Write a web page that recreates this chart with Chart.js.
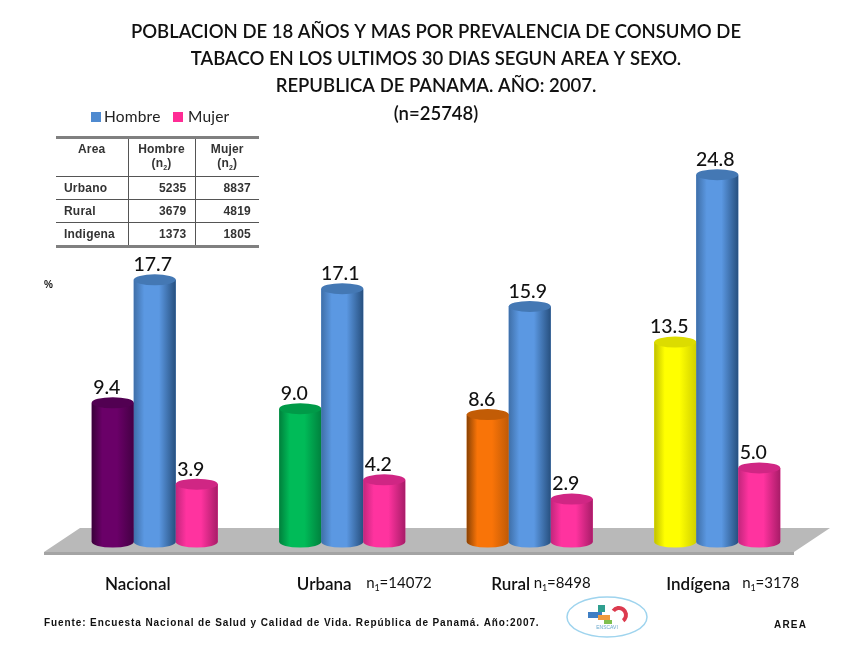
<!DOCTYPE html>
<html lang="es">
<head>
<meta charset="utf-8">
<title>Prevalencia de consumo de tabaco</title>
<script src="https://cdn.jsdelivr.net/npm/chart.js@4/dist/chart.umd.min.js"></script>
<style>
  html, body { margin: 0; padding: 0; background: #fff; }
  #wrap { position: relative; width: 853px; height: 650px; overflow: hidden; }
  canvas { position: absolute; left: 0; top: 0; }
  #area-table {
    position: absolute; left: 56px; top: 136px; width: 203px; height: 112px;
    border-collapse: collapse; table-layout: fixed;
    font: bold 12px "Liberation Sans", Arial, sans-serif; letter-spacing: 0.2px; color: #333;
    border-top: 3px solid #808080; border-bottom: 3px solid #808080;
  }
  #area-table th, #area-table td { padding: 0 8px; border-bottom: 1px solid #555; border-left: 1px solid #555; }
  #area-table th { line-height: 14px; text-align: center; vertical-align: top; padding: 3px 0 0; height: 39px; box-sizing: border-box; }
  #area-table td { text-align: right; }
  #area-table tr:last-child td { border-bottom: 0; }
  #area-table th:first-child { border-left: 0; }
  #area-table td:first-child { border-left: 0; text-align: left; padding-left: 8px; }
  #area-table sub { font-size: 7px; line-height: 0; }
</style>
</head>
<body>
<div id="wrap">
  <canvas id="chart-tabaco" width="853" height="650"></canvas>
  <table id="area-table"></table>
</div>
<script>
// Chart data
const categories = ['Nacional', 'Urbana', 'Rural', 'Indígena'];
const totalValues = [9.4, 9.0, 8.6, 13.5];
const hombreValues = [17.7, 17.1, 15.9, 24.8];
const mujerValues = [3.9, 4.2, 2.9, 5.0];
const sampleSizes = ['', '14072', '8498', '3178'];

const titleLines = [
  'POBLACION DE 18 AÑOS Y MAS POR PREVALENCIA DE CONSUMO DE',
  'TABACO EN LOS ULTIMOS 30 DIAS SEGUN AREA Y SEXO.',
  'REPUBLICA DE PANAMA. AÑO: 2007.',
  '(n=25748)'
];
const sourceNote = 'Fuente: Encuesta Nacional de Salud y Calidad de Vida. República de Panamá. Año:2007.';

const tableAreas = ['Urbano', 'Rural', 'Indigena'];
const tableHombre = [5235, 3679, 1373];
const tableMujer = [8837, 4819, 1805];

// Cylinder shading: [edge left, highlight, edge right, top cap]
const shades = {
  purple: ['#3a003a', '#6a0068', '#440044', '#520052'],
  green:  ['#00803c', '#00bb58', '#00823e', '#009a48'],
  orange: ['#8a4204', '#f97408', '#c05a06', '#c25c06'],
  yellow: ['#c0c000', '#ffff00', '#d0d000', '#dcdc00'],
  blue:   ['#3f6fa8', '#5b98e2', '#27507f', '#4478b4'],
  pink:   ['#c2267c', '#ff339f', '#a81c68', '#d02684']
};
const totalShades = [shades.purple, shades.green, shades.orange, shades.yellow];

// Fill the small table from the arrays
const tableEl = document.getElementById('area-table');
tableEl.innerHTML =
  '<colgroup><col style="width:72px"><col style="width:67px"><col style="width:64px"></colgroup>' +
  '<tr><th>Area</th><th>Hombre<br>(n<sub>2</sub>)</th><th>Mujer<br>(n<sub>2</sub>)</th></tr>' +
  tableAreas.map((a, i) => `<tr><td>${a}</td><td>${tableHombre[i]}</td><td>${tableMujer[i]}</td></tr>`).join('');

function shadesFor(datasetIndex, i) {
  if (datasetIndex === 0) return totalShades[i];
  return datasetIndex === 1 ? shades.blue : shades.pink;
}

// Grey floor under the bars
const floorPlugin = {
  id: 'floor',
  beforeDatasetsDraw(chart) {
    const c = chart.ctx;
    c.save();
    c.fillStyle = '#b9b9b9';
    c.beginPath();
    c.moveTo(80, 528); c.lineTo(830, 528); c.lineTo(794, 552); c.lineTo(44, 552);
    c.closePath();
    c.fill();
    c.fillStyle = '#a4a4a4';
    c.fillRect(44, 552, 750, 3);
    c.restore();
  }
};

// Turns the flat bars into cylinders, left to right so each one overlaps the previous
const cylinderPlugin = {
  id: 'cylinder',
  afterDatasetsDraw(chart) {
    const c = chart.ctx;
    const ry = 5.5;
    chart.data.datasets.forEach((ds, d) => {
      chart.getDatasetMeta(d).data.forEach((bar, i) => {
        const s = shadesFor(d, i);
        const left = bar.x - bar.width / 2;
        const rx = bar.width / 2;
        const g = c.createLinearGradient(left, 0, left + bar.width, 0);
        g.addColorStop(0, s[0]);
        g.addColorStop(0.25, s[1]);
        g.addColorStop(0.6, s[1]);
        g.addColorStop(1, s[2]);
        c.save();
        c.fillStyle = g;
        c.beginPath();
        c.moveTo(left, bar.y);
        c.lineTo(left, bar.base);
        c.ellipse(bar.x, bar.base, rx, ry, 0, Math.PI, 0, true);
        c.lineTo(left + bar.width, bar.y);
        c.closePath();
        c.fill();
        c.fillStyle = s[3];
        c.beginPath();
        c.ellipse(bar.x, bar.y, rx, ry, 0, 0, Math.PI * 2);
        c.fill();
        c.restore();
      });
    });
  }
};

// Value labels, category labels, legend, notes and logo
const labelsPlugin = {
  id: 'labels',
  afterDraw(chart) {
    const c = chart.ctx;
    const x = chart.scales.x;
    c.save();
    c.textBaseline = 'middle';
    c.fillStyle = '#111';

    // values above the bars
    const dx = [-6, -2, -6];
    chart.data.datasets.forEach((ds, d) => {
      chart.getDatasetMeta(d).data.forEach((bar, i) => {
        c.font = '500 19.5px Lato';
        c.textAlign = 'center';
        c.fillText(ds.data[i].toFixed(1), bar.x + dx[d], bar.y - 15);
      });
    });

    // category names sit left of centre, the n1 counts to their right
    const nameShift = [-17, -18, -19, -19];
    const countShift = [0, 24, 4, 25];
    categories.forEach((name, i) => {
      const px = x.getPixelForValue(i);
      c.font = '600 17px Lato';
      c.textAlign = 'center';
      c.fillText(name, px + nameShift[i], 585);
      if (sampleSizes[i]) {
        const nx = px + countShift[i];
        c.textAlign = 'left';
        c.font = '15px Lato';
        c.fillText('n', nx, 583);
        const w = c.measureText('n').width;
        c.font = '9px Lato';
        c.fillText('1', nx + w, 588);
        c.font = '15px Lato';
        c.fillText('=' + sampleSizes[i], nx + w + 5, 583);
      }
    });

    // legend
    c.textAlign = 'left';
    c.font = '15.5px Lato';
    c.letterSpacing = '0.2px';
    c.fillStyle = '#4f8ad0';
    c.fillRect(91, 112, 10, 10);
    c.fillStyle = '#222';
    c.fillText(chart.data.datasets[1].label, 104, 117);
    c.fillStyle = '#ff2c95';
    c.fillRect(173, 112, 10, 10);
    c.fillStyle = '#222';
    c.fillText(chart.data.datasets[2].label, 188, 117);

    // axis mark and notes
    c.fillStyle = '#111';
    c.font = 'bold 10px "Liberation Sans"';
    c.letterSpacing = '0px';
    c.fillText('%', 44, 285);
    c.letterSpacing = '1.2px';
    c.fillText('AREA', 774, 625);
    c.letterSpacing = '0.9px';
    c.fillText(sourceNote, 44, 623);
    c.letterSpacing = '0px';

    // ENSCAVI logo
    c.strokeStyle = '#9fd4ee';
    c.lineWidth = 1.5;
    c.beginPath();
    c.ellipse(607, 617, 40, 20, 0, 0, Math.PI * 2);
    c.stroke();
    c.fillStyle = '#3f7fc4';
    c.fillRect(588, 612, 14, 6);
    c.fillStyle = '#f09a3e';
    c.fillRect(598, 615, 12, 5);
    c.fillStyle = '#7fbf4f';
    c.fillRect(604, 620, 8, 4);
    c.fillStyle = '#2f9f8f';
    c.fillRect(598, 605, 7, 7);
    c.strokeStyle = '#dc3a4e';
    c.lineWidth = 4;
    c.beginPath();
    c.arc(619, 615, 7, -Math.PI * 0.8, Math.PI * 0.3);
    c.stroke();
    c.fillStyle = '#6aa8cc';
    c.font = '5px "Liberation Sans"';
    c.textAlign = 'center';
    c.fillText('ENSCAVI', 607, 628);
    c.restore();
  }
};

new Chart(document.getElementById('chart-tabaco'), {
  type: 'bar',
  data: {
    labels: categories,
    datasets: [
      { label: 'Total', data: totalValues, backgroundColor: totalShades.map(s => s[1]) },
      { label: 'Hombre', data: hombreValues, backgroundColor: shades.blue[1] },
      { label: 'Mujer', data: mujerValues, backgroundColor: shades.pink[1] }
    ]
  },
  options: {
    responsive: false,
    animation: false,
    layout: { padding: { top: 19, left: 61, right: 42, bottom: 108 } },
    datasets: { bar: { barPercentage: 1, categoryPercentage: 0.672 } },
    plugins: {
      legend: { display: false },
      tooltip: { enabled: false },
      title: {
        display: true,
        fullSize: false,
        text: titleLines,
        color: '#111',
        font: { family: 'Lato', size: 18.5, weight: '600', lineHeight: 1.46 },
        padding: { top: 0, bottom: 15 }
      }
    },
    scales: {
      x: { display: false },
      y: { display: false, min: 0, max: 27 }
    }
  },
  plugins: [floorPlugin, cylinderPlugin, labelsPlugin]
});
</script>
</body>
</html>
